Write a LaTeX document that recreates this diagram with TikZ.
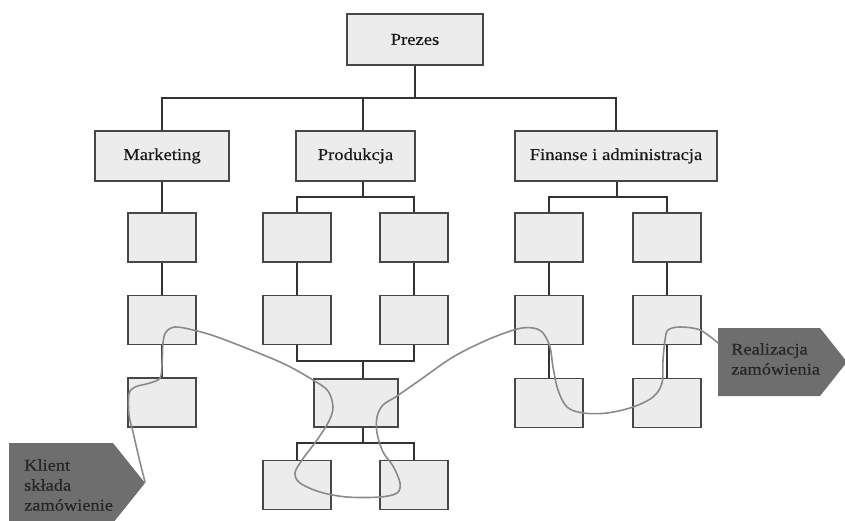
\documentclass[tikz,border=0pt]{standalone}
\usepackage{fontspec}
\setmainfont[FakeStretch=1.12, FakeBold=0.4]{Liberation Serif}
\begin{document}
\begin{tikzpicture}[x=1pt,y=-1pt,
  box/.style={draw=boxline, fill=boxfill, line width=1.3pt, inner sep=0pt,
    font=\fontsize{16.6}{20}\selectfont, text=black!90},
  unit/.style={box, minimum width=68pt, minimum height=49pt},
  link/.style={draw=linkcol, line width=1.1pt},
  tag/.style={fill=tagfill, draw=none},
  tagtext/.style={font=\fontsize{16.4}{20}\selectfont, align=left, inner sep=0pt, text=black!85},
  flow/.style={draw=flowcol, line width=1.6pt, line cap=round, line join=round}]
\definecolor{boxline}{HTML}{474747}
\definecolor{boxfill}{HTML}{ECECEC}
\definecolor{linkcol}{HTML}{333333}
\definecolor{tagfill}{HTML}{6E6E6E}
\definecolor{flowcol}{HTML}{8A8A8A}

\useasboundingbox (0,0) rectangle (845,520);
\clip (0,0) rectangle (845,520);

% top level
\node[box, minimum width=136pt, minimum height=51pt] (prezes) at (415,39.5) {Prezes};
\node[box, minimum width=134pt, minimum height=50pt] (marketing) at (162,156) {Marketing};
\node[box, minimum width=119pt, minimum height=50pt] (produkcja) at (355.5,156) {Produkcja};
\node[box, minimum width=202pt, minimum height=50pt] (finanse) at (616,156) {Finanse i administracja};

% marketing column
\node[unit] (m1) at (162,237.5) {};
\node[unit] (m2) at (162,320) {};
\node[unit] (m3) at (162,402.5) {};

% production units
\node[unit] (p1a) at (297,237.5) {};
\node[unit] (p1b) at (414,237.5) {};
\node[unit] (p2a) at (297,320) {};
\node[unit] (p2b) at (414,320) {};
\node[box, minimum width=84pt, minimum height=48pt] (pc) at (356,403) {};
\node[unit] (p3a) at (297,485) {};
\node[unit] (p3b) at (414,485) {};

% finance units
\node[unit] (f1a) at (549,237.5) {};
\node[unit] (f1b) at (667,237.5) {};
\node[unit] (f2a) at (549,320) {};
\node[unit] (f2b) at (667,320) {};
\node[unit] (f3a) at (549,403) {};
\node[unit] (f3b) at (667,403) {};

% top-level connectors
\coordinate (bus) at (415,98);
\draw[link] (prezes.south) -- (bus);
\draw[link] (marketing.north) |- (bus) -| (finanse.north);
\draw[link] ([xshift=7.5pt]produkcja.north) -- ([xshift=7.5pt]produkcja.north |- bus);

% marketing connectors
\draw[link] (marketing) -- (m1);
\draw[link] (m1) -- (m2);
\draw[link] (m2) -- (m3);

% production connectors
\coordinate (pj) at (363,197);
\draw[link] ([xshift=7.5pt]produkcja.south) -- (pj);
\draw[link] (p1a.north) |- (pj) -| (p1b.north);
\draw[link] (p1a) -- (p2a);
\draw[link] (p1b) -- (p2b);
\coordinate (pm) at (363,361);
\draw[link] (p2a.south) |- (pm) -| (p2b.south);
\draw[link] (pm) -- (pm |- pc.north);
\coordinate (pl) at (363,443);
\draw[link] (pl |- pc.south) -- (pl);
\draw[link] (p3a.north) |- (pl) -| (p3b.north);

% finance connectors
\coordinate (fj) at (617,197);
\draw[link] ([xshift=1pt]finanse.south) -- (fj);
\draw[link] (f1a.north) |- (fj) -| (f1b.north);
\draw[link] (f1a) -- (f2a);
\draw[link] (f2a) -- (f3a);
\draw[link] (f1b) -- (f2b);
\draw[link] (f2b) -- (f3b);

% customer and fulfilment tags
\fill[tag] (9,443) -- (113,443) -- (145,483) -- (113,523) -- (9,523) -- cycle;
\coordinate (kt) at (145,482);
\node[tagtext, anchor=west] (klient) at (24,485) {Klient\\składa\\zamówienie};

\fill[tag] (718,328) -- (820,328) -- (847,362) -- (820,396) -- (718,396) -- cycle;
\coordinate (rz) at (718,343);
\node[tagtext, anchor=west] (realizacja) at (731,359) {Realizacja\\zamówienia};

% order flow through the organisation
\draw[flow] plot[smooth, tension=0.55] coordinates {
  (kt) (139,458) (133,432) (129,415) (129,394) (135,387) (150,383) (160,378)
  (162,365) (163,343) (166,332) (175,327) (193,330) (220,338) (280,362)
  (313,380) (328,391) (333,407) (329,421) (317,440) (302,460) (295,473)
  (300,483) (320,492) (347,497) (380,497) (397,493) (400,483) (393,466)
  (383,452) (377,433) (377,417) (383,405) (397,396) (420,380) (453,357)
  (487,340) (517,329) (533,328) (543,333) (550,347) (553,367) (558,390)
  (567,407) (583,413) (607,413) (633,407) (653,397) (662,383) (663,360)
  (665,340) (668,330) (680,327) (700,330) (rz)};
\end{tikzpicture}
\end{document}
